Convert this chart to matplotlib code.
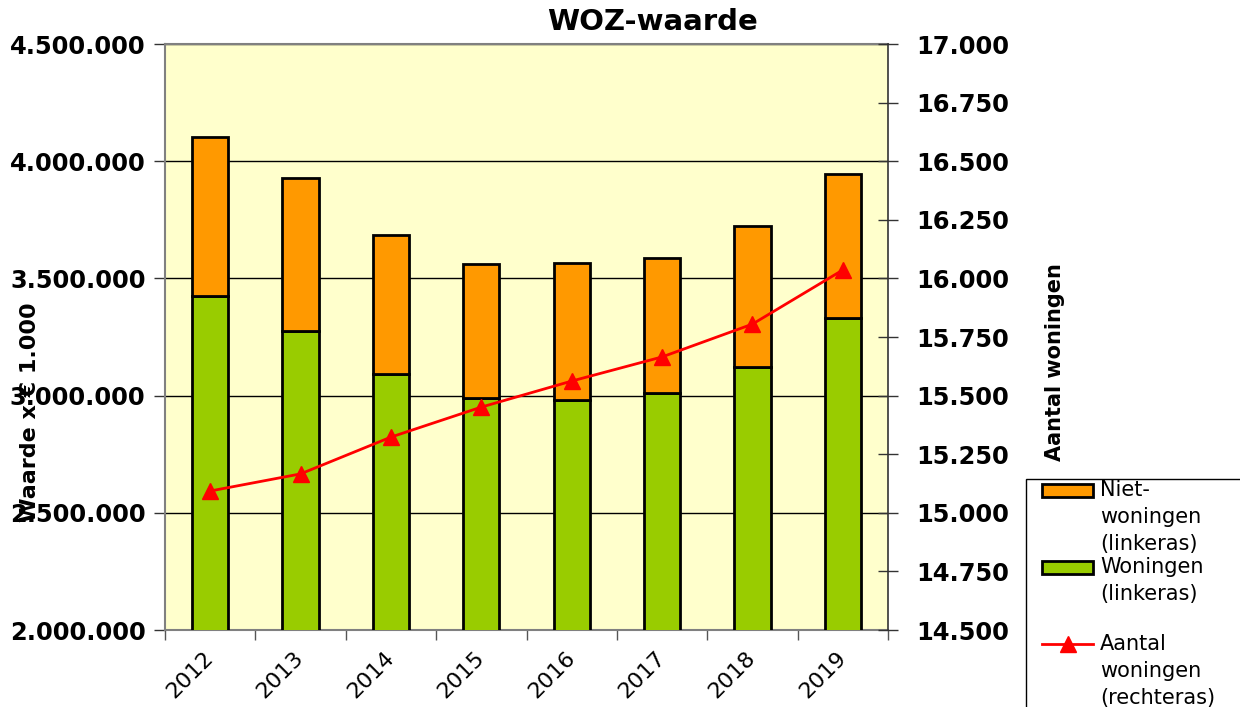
import matplotlib
matplotlib.use("Agg")
import matplotlib.pyplot as plt
from matplotlib.ticker import FuncFormatter, MultipleLocator, FixedLocator
from matplotlib.patches import Rectangle
from matplotlib.lines import Line2D

years = ["2012", "2013", "2014", "2015", "2016", "2017", "2018", "2019"]
woningen = [3425000, 3276000, 3092000, 2990000, 2981000, 3011000, 3122000, 3331000]
totaal = [4103000, 3928000, 3685000, 3561000, 3566000, 3587000, 3724000, 3945000]
niet_woningen = [t - w for t, w in zip(totaal, woningen)]
aantal = [15093, 15166, 15323, 15451, 15562, 15665, 15805, 16036]

legend_labels = [["Niet-", "woningen", "(linkeras)"], ["Woningen", "(linkeras)"],
                 ["Aantal", "woningen", "(rechteras)"]]

plt.rcParams['font.family'] = ['DejaVu Sans']

W, H = 1240, 707
fig = plt.figure(figsize=(W/100, H/100), dpi=100)

def fx(px):
    return px / W

def fy(py):
    return 1 - py / H

ax = fig.add_axes([fx(165), fy(630), (888-165)/W, (630-44)/H])
ax.set_facecolor('#FFFFCC')

x = list(range(len(years)))
ax.bar(x, woningen, width=0.4, color='#99CC00', edgecolor='black', linewidth=2, zorder=3)
ax.bar(x, niet_woningen, bottom=woningen, width=0.4, color='#FF9900', edgecolor='black', linewidth=2, zorder=3)

ax.set_ylim(2000000, 4500000)
ax.set_xlim(-0.5, 7.5)
ax.yaxis.set_major_locator(MultipleLocator(500000))
fmt = FuncFormatter(lambda v, p: f"{int(round(v)):,}".replace(",", "."))
ax.yaxis.set_major_formatter(fmt)
ax.grid(axis='y', color='black', linewidth=1, zorder=1)
ax.set_axisbelow(True)

ax.xaxis.set_major_locator(FixedLocator([i + 0.5 for i in range(-1, len(years))]))
ax.xaxis.set_major_formatter(FuncFormatter(lambda v, p: ""))
ax.set_xticks(x, years, minor=True)
ax.tick_params(axis='x', which='major', length=7, width=1, color='#555555', direction='out')
ax.tick_params(axis='x', which='minor', length=0, pad=18, labelsize=16)
for lbl in ax.get_xticklabels(minor=True):
    lbl.set_rotation(45)
    lbl.set_ha('right')
    lbl.set_va('center')
    lbl.set_rotation_mode('anchor')
ax.tick_params(axis='y', length=8, width=1, color='#333333', labelsize=17.4, pad=6)
for lbl in ax.get_yticklabels():
    lbl.set_fontweight('bold')

for s in ['left', 'top', 'bottom']:
    ax.spines[s].set_color('#808080')
    ax.spines[s].set_linewidth(1.5)
ax.spines['right'].set_visible(False)

ax2 = ax.twinx()
ax2.plot(x, aantal, color='#FF0000', linewidth=2, marker='^', markersize=11, zorder=5)
ax2.set_ylim(14500, 17000)
ax2.yaxis.set_major_locator(MultipleLocator(250))
ax2.yaxis.set_major_formatter(fmt)
ax2.tick_params(axis='y', direction='inout', length=14, width=1, color='#333333', labelsize=17.4, pad=13)
for lbl in ax2.get_yticklabels():
    lbl.set_fontweight('bold')
for s in ['left', 'top', 'bottom']:
    ax2.spines[s].set_visible(False)
ax2.spines['right'].set_color('#333333')
ax2.spines['right'].set_linewidth(1.2)

fig.text(fx(652), fy(22), "WOZ-waarde", ha='center', va='center', fontsize=21, fontweight='bold')
fig.text(fx(30), fy(412), "Waarde x € 1.000", rotation=90, ha='center', va='center', fontsize=16, fontweight='bold')
fig.text(fx(1055), fy(362), "Aantal woningen", rotation=90, ha='center', va='center', fontsize=15, fontweight='bold')

# manual legend (box extends beyond the figure edge, as in the reference)
fig.patches.append(Rectangle((fx(1026), fy(720)), fx(1260) - fx(1026), fy(479) - fy(720),
                             transform=fig.transFigure, facecolor='white', edgecolor='black',
                             linewidth=1, zorder=1))
line_h = 27
starts = [490, 567, 644]
fig.patches.append(Rectangle((fx(1042), fy(497)), fx(1093) - fx(1042), fy(484) - fy(497),
                             transform=fig.transFigure, facecolor='#FF9900', edgecolor='black',
                             linewidth=2, zorder=2))
fig.patches.append(Rectangle((fx(1042), fy(574)), fx(1093) - fx(1042), fy(561) - fy(574),
                             transform=fig.transFigure, facecolor='#99CC00', edgecolor='black',
                             linewidth=2, zorder=2))
fig.lines.append(Line2D([fx(1042), fx(1093)], [fy(644), fy(644)], transform=fig.transFigure,
                        color='#FF0000', linewidth=2, zorder=2))
fig.lines.append(Line2D([fx(1068)], [fy(644)], transform=fig.transFigure, color='#FF0000',
                        marker='^', markersize=11, linestyle='none', zorder=3))
for s0, lines in zip(starts, legend_labels):
    for i, t in enumerate(lines):
        fig.text(fx(1100), fy(s0 + i * line_h), t, ha='left', va='center', fontsize=15, zorder=4)

fig.savefig("out.png", dpi=100)
